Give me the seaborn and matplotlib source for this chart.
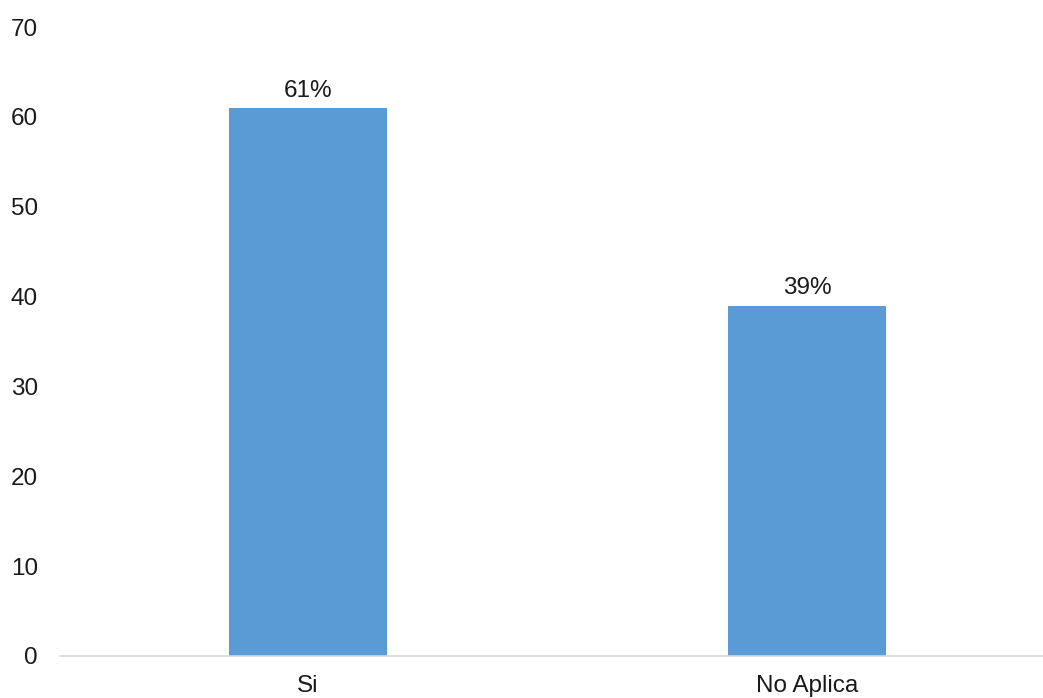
import matplotlib
matplotlib.use("Agg")
import matplotlib.pyplot as plt
import seaborn as sns
import pandas as pd

categories = ["Si", "No Aplica"]
values = [61, 39]
labels = ["61%", "39%"]

sns.set_theme(style="white")
plt.rcParams['font.family'] = ['Liberation Sans', 'DejaVu Sans']

fig = plt.figure(figsize=(10.43, 6.98), dpi=100)
ax = fig.add_axes([60/1043, 42/698, (1043-60)/1043, (656-27)/698])

df = pd.DataFrame({"cat": categories, "val": values})
sns.barplot(data=df, x="cat", y="val", color="#5B9BD5", width=0.315,
            saturation=1, linewidth=0, ax=ax)

for i, (v, lab) in enumerate(zip(values, labels)):
    ax.text(i, v + 0.7, lab, ha="center", va="bottom", fontsize=17.5, color="#1a1a1a")

ax.set_ylim(0, 70)
ax.set_xlim(-0.497, 1.473)
ax.set_yticks(range(0, 71, 10))
ax.set_xlabel("")
ax.set_ylabel("")
ax.tick_params(axis="y", length=0, pad=16, labelsize=17.5, labelcolor="#1a1a1a")
ax.tick_params(axis="x", length=0, pad=14, labelsize=17.5, labelcolor="#1a1a1a")
for s in ["top", "right", "left"]:
    ax.spines[s].set_visible(False)
ax.spines["bottom"].set_color("#D9D9D9")
ax.spines["bottom"].set_linewidth(1.2)
ax.grid(False)

fig.savefig("out.png", dpi=100)
